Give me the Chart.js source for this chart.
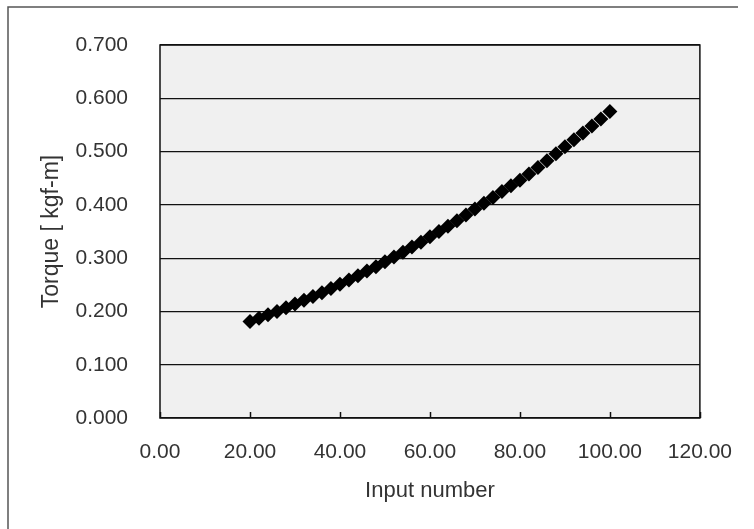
<!DOCTYPE html>
<html>
<head>
<meta charset="utf-8">
<script src="https://cdn.jsdelivr.net/npm/chart.js@4.4.0/dist/chart.umd.min.js"></script>
<style>
    html, body { margin: 0; padding: 0; background: #fff; }
    #wrap { position: relative; width: 754px; height: 529px; }
</style>
</head>
<body>
<div id="wrap"><canvas id="torqueChart" width="754" height="529"></canvas></div>
<script>
const inputNumber = [
    20, 22, 24, 26, 28, 30, 32, 34, 36, 38,
    40, 42, 44, 46, 48, 50, 52, 54, 56, 58,
    60, 62, 64, 66, 68, 70, 72, 74, 76, 78,
    80, 82, 84, 86, 88, 90, 92, 94, 96, 98, 100
];
const torque = [
    0.181, 0.187, 0.194, 0.200, 0.207, 0.214, 0.221, 0.228, 0.235, 0.243,
    0.251, 0.259, 0.267, 0.276, 0.284, 0.293, 0.302, 0.311, 0.321, 0.330,
    0.340, 0.350, 0.360, 0.370, 0.381, 0.392, 0.403, 0.414, 0.425, 0.436,
    0.446, 0.458, 0.470, 0.483, 0.496, 0.509, 0.522, 0.535, 0.548, 0.561, 0.575
];
const xTicks = [0, 20, 40, 60, 80, 100, 120];
const yTicks = [0, 0.1, 0.2, 0.3, 0.4, 0.5, 0.6, 0.7];

const FONT = "'Liberation Sans', Arial, sans-serif";

// grey plot background, frame, and the short x ticks drawn inside the plot
const plotDecor = {
    id: "plotDecor",
    beforeDraw(chart) {
        const { ctx, chartArea: a } = chart;
        ctx.save();
        ctx.fillStyle = "#fff";
        ctx.fillRect(0, 0, chart.width, chart.height);
        ctx.fillStyle = "#f0f0f0";
        ctx.fillRect(a.left, a.top, a.right - a.left, a.bottom - a.top);
        // outer frame of the scan (top and left edges)
        ctx.strokeStyle = "#555";
        ctx.lineWidth = 1.5;
        ctx.beginPath();
        ctx.moveTo(8, 529);
        ctx.lineTo(8, 7);
        ctx.lineTo(738, 7);
        ctx.stroke();
        ctx.restore();
    },
    afterDatasetsDraw(chart) {
        const { ctx, chartArea: a, scales } = chart;
        ctx.save();
        ctx.strokeStyle = "#111";
        ctx.lineWidth = 1.5;
        ctx.strokeRect(a.left, a.top, a.right - a.left, a.bottom - a.top);
        ctx.beginPath();
        xTicks.forEach((v) => {
            const px = Math.round(scales.x.getPixelForValue(v)) + 0.5;
            ctx.moveTo(px, a.bottom);
            ctx.lineTo(px, a.bottom - 6);
        });
        ctx.stroke();
        ctx.restore();
    },
};

const ctx = document.getElementById("torqueChart").getContext("2d");
new Chart(ctx, {
    type: "scatter",
    data: {
        datasets: [
            {
                data: inputNumber.map((x, i) => ({ x: x, y: torque[i] })),
                pointStyle: "rectRot",
                pointRadius: 7.5,
                pointHoverRadius: 7.5,
                backgroundColor: "#000",
                borderColor: "#000",
                borderWidth: 0,
            },
        ],
    },
    options: {
        responsive: false,
        animation: false,
        events: [],
        layout: {
            padding: { left: 0, top: 45, right: 51, bottom: 0 },
        },
        plugins: {
            legend: { display: false },
            tooltip: { enabled: false },
        },
        scales: {
            x: {
                type: "linear",
                min: 0,
                max: 120,
                afterBuildTicks(scale) {
                    scale.ticks = xTicks.map((v) => ({ value: v }));
                },
                afterFit(scale) {
                    scale.height = 111;
                },
                grid: { display: false, drawTicks: false },
                border: { display: false },
                ticks: {
                    padding: 22,
                    maxRotation: 0,
                    color: "#333",
                    font: { family: FONT, size: 21 },
                    callback: (v) => Number(v).toFixed(2),
                },
                title: {
                    display: true,
                    text: "Input number",
                    color: "#333",
                    font: { family: FONT, size: 22 },
                    padding: { top: 0, bottom: 25 },
                },
            },
            y: {
                type: "linear",
                min: 0,
                max: 0.7,
                afterBuildTicks(scale) {
                    scale.ticks = yTicks.map((v) => ({ value: v }));
                },
                afterFit(scale) {
                    scale.width = 160;
                },
                grid: { color: "#111", lineWidth: 1.2, drawTicks: false },
                border: { display: false },
                ticks: {
                    padding: 32,
                    color: "#333",
                    font: { family: FONT, size: 21 },
                    callback: (v) => Number(v).toFixed(3),
                },
                title: {
                    display: true,
                    text: "Torque [ kgf-m]",
                    color: "#333",
                    font: { family: FONT, size: 23 },
                    padding: { top: 38, bottom: 0 },
                },
            },
        },
    },
    plugins: [plotDecor],
});
</script>
</body>
</html>
